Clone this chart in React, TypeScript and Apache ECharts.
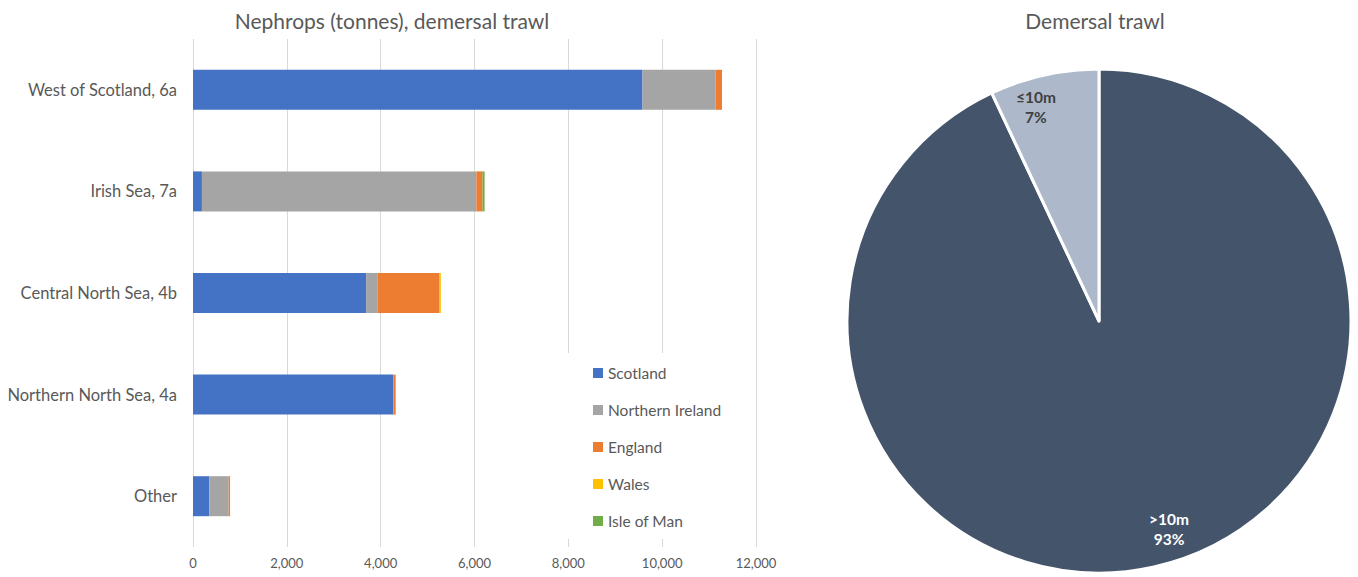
import React, { useEffect, useRef } from "react";
import * as echarts from "echarts";

// Nephrops landings by demersal trawl, tonnes, by sea area and landing nation
const categories = [
  "West of Scotland, 6a",
  "Irish Sea, 7a",
  "Central North Sea, 4b",
  "Northern North Sea, 4a",
  "Other",
];
const scotland = [9580, 190, 3690, 4270, 350];
const northernIreland = [1560, 5850, 240, 0, 410];
const england = [135, 130, 1315, 50, 30];
const wales = [0, 0, 37, 0, 0];
const isleOfMan = [0, 45, 0, 0, 0];

const nations = [
  { name: "Scotland", data: scotland, color: "#4472C4" },
  { name: "Northern Ireland", data: northernIreland, color: "#A5A5A5" },
  { name: "England", data: england, color: "#ED7D31" },
  { name: "Wales", data: wales, color: "#FFC000" },
  { name: "Isle of Man", data: isleOfMan, color: "#70AD47" },
];

// Vessel length split of demersal trawl landings (%)
const vesselClasses = [">10m", "≤10m"];
const vesselShares = [93, 7];
const vesselColors = ["#44546A", "#ADB9CA"];
const vesselLabelColors = ["#FFFFFF", "#404040"];

const FONT = "Lato, 'Noto Sans', sans-serif";
const GREY = "#595959";

export default function App() {
  const ref = useRef<HTMLDivElement>(null);

  useEffect(() => {
    if (!ref.current) return;
    const chart = echarts.init(ref.current, null, { renderer: "svg" });

    const barSeries = nations.map((n) => ({
      type: "bar",
      name: n.name,
      stack: "total",
      data: n.data,
      barWidth: 40,
      itemStyle: { color: n.color },
      emphasis: { disabled: true },
    }));

    const pieData = vesselClasses.map((name, i) => ({
      name,
      value: vesselShares[i],
      itemStyle: { color: vesselColors[i] },
    }));

    const pieLabelData = vesselClasses.map((name, i) => ({
      name,
      value: vesselShares[i],
      itemStyle: { color: "rgba(0,0,0,0)", borderWidth: 0 },
      label: { color: vesselLabelColors[i] },
    }));

    chart.setOption({
      animation: false,
      textStyle: { fontFamily: FONT },
      title: [
        {
          text: "Nephrops (tonnes), demersal trawl",
          left: 387,
          top: 5,
          textAlign: "center",
          textStyle: { color: GREY, fontSize: 21, fontWeight: "normal", fontFamily: FONT },
        },
        {
          text: "Demersal trawl",
          left: 1090,
          top: 5,
          textAlign: "center",
          textStyle: { color: GREY, fontSize: 21, fontWeight: "normal", fontFamily: FONT },
        },
      ],
      grid: { left: 193, right: 602, top: 39, bottom: 30, containLabel: false },
      xAxis: {
        type: "value",
        min: 0,
        max: 12000,
        interval: 2000,
        axisLine: { show: false },
        axisTick: { show: false },
        splitLine: { show: true, lineStyle: { color: "#D9D9D9", width: 1 } },
        axisLabel: {
          color: GREY,
          fontSize: 13,
          margin: 9,
          formatter: (v: number) => v.toLocaleString("en-US"),
        },
      },
      yAxis: {
        type: "category",
        data: categories,
        inverse: true,
        axisLine: { show: false },
        axisTick: { show: false },
        axisLabel: { color: GREY, fontSize: 16.5, margin: 16 },
      },
      legend: {
        orient: "vertical",
        left: 565,
        top: 353,
        padding: [12, 20, 10, 28],
        backgroundColor: "#FFFFFF",
        itemWidth: 10,
        itemHeight: 10,
        itemGap: 21,
        icon: "rect",
        selectedMode: false,
        textStyle: { color: GREY, fontSize: 15.5, fontFamily: FONT },
        data: nations.map((n) => n.name),
      },
      series: [
        ...barSeries,
        {
          type: "pie",
          center: [1099, 321],
          radius: 252,
          startAngle: 90,
          clockwise: true,
          silent: true,
          itemStyle: { borderColor: "#FFFFFF", borderWidth: 3 },
          label: { show: false },
          labelLine: { show: false },
          data: pieData,
        },
        {
          type: "pie",
          center: [1099, 321],
          radius: [192, 252],
          startAngle: 90,
          clockwise: true,
          silent: true,
          z: 5,
          label: {
            show: true,
            position: "inside",
            formatter: "{b}\n{d}%",
            fontSize: 15.5,
            fontWeight: "bold",
            lineHeight: 20,
            fontFamily: FONT,
          },
          labelLine: { show: false },
          labelLayout: (p: any) =>
            p.dataIndex === 0 ? { dx: 21, dy: -12 } : { dx: -14, dy: 6 },
          data: pieLabelData,
        },
      ],
    });

    return () => chart.dispose();
  }, []);

  return (
    <div
      ref={ref}
      style={{ position: "fixed", left: 0, top: 0, width: 1358, height: 577, background: "#FFFFFF" }}
    />
  );
}
